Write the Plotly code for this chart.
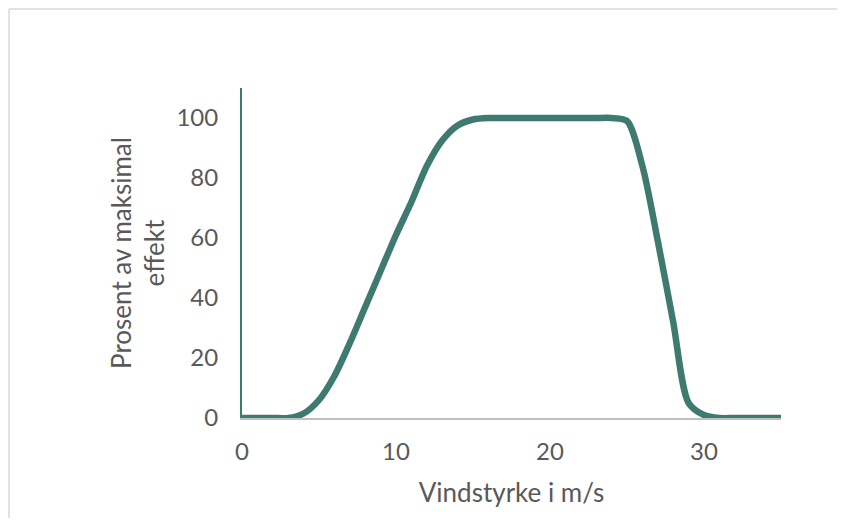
import plotly.graph_objects as go

wind_speed = [0, 1, 2, 3, 4, 5, 6, 7, 8, 9, 10, 11, 12, 13, 14, 15, 16, 17, 18, 19, 20,
              21, 22, 23, 24, 25, 26, 27, 28, 29, 30, 31, 32, 33, 34, 35]
percent_power = [0, 0, 0, 0, 1.5, 6, 14, 25, 37, 49, 61, 72, 84, 92.5, 97.5, 99.5, 100, 100, 100, 100, 100,
                 100, 100, 100, 100, 99, 84, 59, 32, 5, 1, 0, 0, 0, 0, 0]
x_ticks = [0, 10, 20, 30]
y_ticks = [0, 20, 40, 60, 80, 100]

# page body adds an 8px margin; keep the figure inside the 845x526 window
W, H = 829, 510
L, R, T, B = 234, 56, 80, 100
pw, ph = W - L - R, H - T - B

FONT = "Lato"
TXT = "#595959"
TEAL = "#3F7A70"

fig = go.Figure()
fig.add_trace(go.Scatter(
    x=wind_speed, y=percent_power, mode="lines",
    line=dict(color=TEAL, width=6.5, shape="spline", smoothing=0.8),
    showlegend=False, hoverinfo="skip",
))

# outer chart frame: only its top and left edges fall inside the reference crop
frame_left = (1 - L) / pw
frame_top = (H - B - 1) / ph
frame_right = (W - L) / pw
frame_bottom = -(H - T - ph) / ph
border = dict(color="#D9D9D9", width=1.5)
fig.add_shape(type="line", xref="paper", yref="paper",
              x0=frame_left, x1=frame_right, y0=frame_top, y1=frame_top,
              line=border, layer="below")
fig.add_shape(type="line", xref="paper", yref="paper",
              x0=frame_left, x1=frame_left, y0=frame_top, y1=frame_bottom,
              line=border, layer="below")

fig.update_layout(
    width=W, height=H,
    margin=dict(l=L, r=R, t=T, b=B),
    paper_bgcolor="white", plot_bgcolor="white",
    font=dict(family=FONT, color=TXT, size=24),
    xaxis=dict(
        range=[0, 35], tickvals=x_ticks, showgrid=False, zeroline=False,
        showline=True, linecolor="#BFBFBF", linewidth=1.5,
        ticks="", ticklabelstandoff=11,
        tickfont=dict(family=FONT, color=TXT, size=24),
        title=dict(text="Vindstyrke i m/s", standoff=20,
                   font=dict(family=FONT, color=TXT, size=26)),
    ),
    yaxis=dict(
        range=[0, 110], tickvals=y_ticks, showgrid=False, zeroline=False,
        showline=True, linecolor=TEAL, linewidth=2,
        ticks="", ticklabelstandoff=17,
        tickfont=dict(family=FONT, color=TXT, size=24),
        title=dict(text="Prosent av maksimal<br>effekt", standoff=4,
                   font=dict(family=FONT, color=TXT, size=26)),
    ),
)

fig.write_html("out.html")
